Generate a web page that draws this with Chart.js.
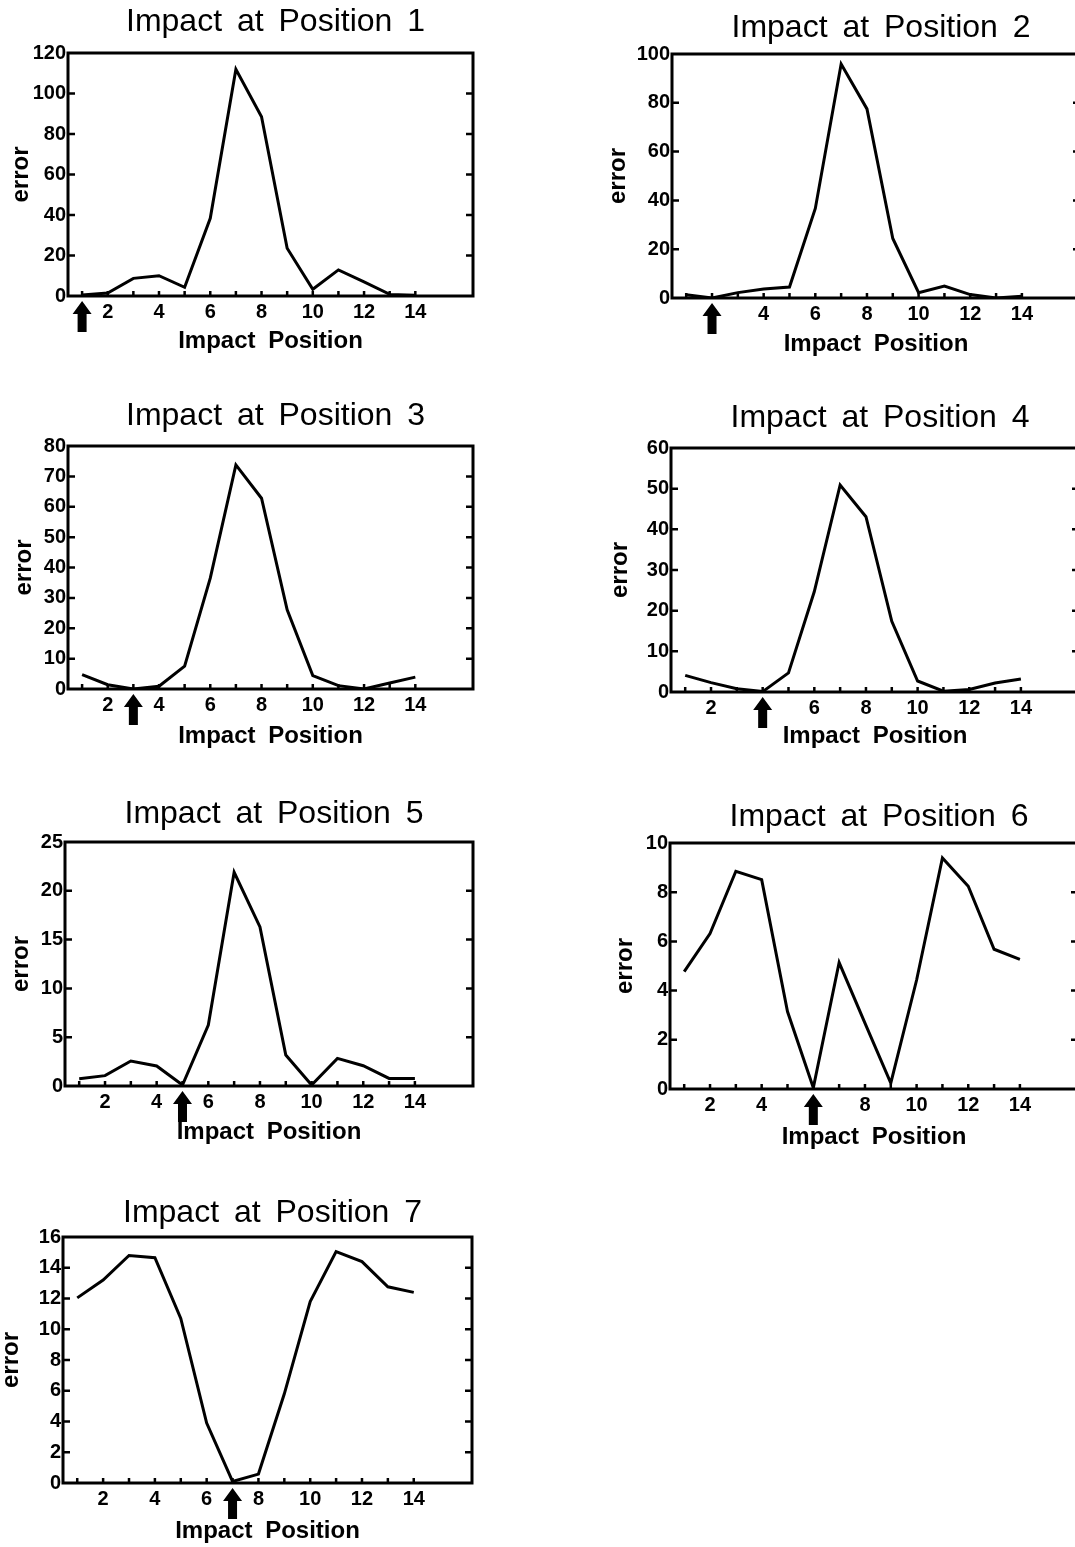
<!DOCTYPE html>
<html>
<head>
<meta charset="utf-8">
<title>Impact Position Error</title>
<script src="https://cdn.jsdelivr.net/npm/chart.js@4.4.1/dist/chart.umd.min.js"></script>
<style>
  html, body { margin: 0; padding: 0; background: #fff; }
  body { width: 1075px; height: 1547px; overflow: hidden; position: relative; }
  .panel { position: absolute; }
</style>
</head>
<body>
<script>
// Impact positions along the beam (x axis)
const positions = [1, 2, 3, 4, 5, 6, 7, 8, 9, 10, 11, 12, 13, 14];
// Where the impact was applied in each panel
const impactAt = [1, 2, 3, 4, 5, 6, 7];

// Error at each position, one series per impact location
const errorAt1 = [0.5, 1.5, 8.7, 10, 4.3, 38.4, 112, 88.5, 23.6, 3.3, 12.9, 7, 0.8, 0.4];
const errorAt2 = [1.3, 0, 2.2, 3.7, 4.5, 36.7, 95.9, 77.5, 24.4, 2.2, 4.9, 1.4, 0, 0.7];
const errorAt3 = [4.7, 1.4, 0, 0.9, 7.5, 36.5, 73.8, 62.8, 26.1, 4.4, 1.1, 0, 2, 3.9];
const errorAt4 = [4.1, 2.3, 0.8, 0.1, 4.7, 24.7, 50.9, 43.1, 17.4, 2.7, 0.2, 0.6, 2.2, 3.2];
const errorAt5 = [0.75, 1.06, 2.56, 2.05, 0.1, 6.24, 21.9, 16.3, 3.17, 0.1, 2.83, 2.08, 0.78, 0.78];
const errorAt6 = [4.77, 6.32, 8.85, 8.51, 3.15, 0.05, 5.14, 2.68, 0.24, 4.43, 9.39, 8.24, 5.68, 5.27];
const errorAt7 = [12.04, 13.2, 14.8, 14.65, 10.7, 3.9, 0.1, 0.58, 5.8, 11.8, 15.05, 14.4, 12.76, 12.4];
const errorSeries = [errorAt1, errorAt2, errorAt3, errorAt4, errorAt5, errorAt6, errorAt7];

// y-axis range and tick spacing per panel
const yMax = [120, 100, 80, 60, 25, 10, 16];
const yStep = [20, 20, 10, 10, 5, 2, 2];

// Page placement of each plot frame
const frames = [
  { boxL: 68,  boxT: 53,   boxB: 296,  boxW: 405, errOff: 49,   titleGap: 30.5, xTitleOff: 45 },
  { boxL: 672, boxT: 54,   boxB: 298,  boxW: 408, errOff: 56,   titleGap: 25.5, xTitleOff: 46 },
  { boxL: 68,  boxT: 446,  boxB: 689,  boxW: 405, errOff: 45.5, titleGap: 30,   xTitleOff: 47.5 },
  { boxL: 671, boxT: 448,  boxB: 692,  boxW: 408, errOff: 52.5, titleGap: 29.5, xTitleOff: 44 },
  { boxL: 65,  boxT: 842,  boxB: 1086, boxW: 408, errOff: 46,   titleGap: 28,   xTitleOff: 46 },
  { boxL: 670, boxT: 843,  boxB: 1089, boxW: 408, errOff: 46.5, titleGap: 25.5, xTitleOff: 48 },
  { boxL: 63,  boxT: 1237, boxB: 1483, boxW: 409, errOff: 54,   titleGap: 24,   xTitleOff: 48 }
];

const FONT = "'Liberation Sans', Arial, Helvetica, sans-serif";
Chart.defaults.font.family = FONT;
Chart.defaults.color = '#000';

const Y_AXIS_W = 75;   // space left of the frame
const TITLE_H = 60;    // space above the frame
const X_AXIS_H = 70;   // space below the frame
const RIGHT_W = 85;    // space right of the frame
const TITLE_SIZE = 32;

// Wider gaps between words, as in the typeset labels
const spacingPlugin = {
  id: 'spacing',
  beforeDraw(chart) { chart.ctx.wordSpacing = '6px'; }
};

// Frame, inward tick marks and the impact arrow
const framePlugin = {
  id: 'frame',
  afterDraw(chart, args, opts) {
    const { ctx, chartArea: a, scales } = chart;
    const xs = scales.x, ys = scales.y;
    ctx.save();
    ctx.strokeStyle = '#000';
    ctx.fillStyle = '#000';
    ctx.lineWidth = 3;
    ctx.strokeRect(a.left, a.top, a.right - a.left, a.bottom - a.top);

    ctx.lineWidth = 2.5;
    ctx.beginPath();
    const yt = ys.ticks;
    for (let k = 1; k < yt.length - 1; k++) {
      const py = ys.getPixelForValue(yt[k].value);
      ctx.moveTo(a.left, py); ctx.lineTo(a.left + 7, py);
      ctx.moveTo(a.right, py); ctx.lineTo(a.right - 7, py);
    }
    positions.forEach(v => {
      const px = xs.getPixelForValue(v);
      ctx.moveTo(px, a.bottom); ctx.lineTo(px, a.bottom - 5);
    });
    ctx.stroke();

    // arrow under the impact position
    const ax = xs.getPixelForValue(opts.impact);
    const t = a.bottom + 5;
    ctx.beginPath();
    ctx.moveTo(ax, t);
    ctx.lineTo(ax + 9.5, t + 13);
    ctx.lineTo(ax + 4.5, t + 13);
    ctx.lineTo(ax + 4.5, t + 31);
    ctx.lineTo(ax - 4.5, t + 31);
    ctx.lineTo(ax - 4.5, t + 13);
    ctx.lineTo(ax - 9.5, t + 13);
    ctx.closePath();
    ctx.fill();
    ctx.restore();
  }
};

frames.forEach((f, i) => {
  const div = document.createElement('div');
  div.className = 'panel';
  const w = Y_AXIS_W + f.boxW + RIGHT_W;
  const h = TITLE_H + (f.boxB - f.boxT) + X_AXIS_H;
  div.style.left = (f.boxL - Y_AXIS_W) + 'px';
  div.style.top = (f.boxT - TITLE_H) + 'px';
  div.style.width = w + 'px';
  div.style.height = h + 'px';
  const canvas = document.createElement('canvas');
  canvas.width = w;
  canvas.height = h;
  div.appendChild(canvas);
  document.body.appendChild(div);

  const imp = impactAt[i];
  const titlePadTop = TITLE_H - f.titleGap - TITLE_SIZE / 2;
  const titlePadBottom = TITLE_H - TITLE_SIZE - titlePadTop;

  new Chart(canvas, {
    type: 'line',
    data: {
      datasets: [{
        data: positions.map((x, k) => ({ x: x, y: errorSeries[i][k] })),
        borderColor: '#000',
        borderWidth: 3,
        pointRadius: 0,
        tension: 0,
        fill: false
      }]
    },
    options: {
      responsive: false,
      animation: false,
      devicePixelRatio: 1,
      layout: { padding: 0 },
      plugins: {
        legend: { display: false },
        tooltip: { enabled: false },
        title: {
          display: true,
          text: 'Impact at Position ' + imp,
          color: '#000',
          font: { family: FONT, size: TITLE_SIZE, weight: 'normal', lineHeight: 1 },
          padding: { top: titlePadTop, bottom: titlePadBottom }
        },
        frame: { impact: imp }
      },
      scales: {
        x: {
          type: 'linear',
          min: 0.45,
          max: 16.25,
          grid: { display: false, drawTicks: false },
          border: { display: false },
          afterBuildTicks: s => { s.ticks = positions.map(v => ({ value: v })); },
          afterFit: s => { s.height = X_AXIS_H; },
          ticks: {
            autoSkip: false,
            maxRotation: 0,
            padding: 4,
            color: '#000',
            font: { family: FONT, size: 20, weight: 'bold' },
            callback: v => (v % 2 === 0 && v !== imp) ? String(v) : ''
          },
          title: {
            display: true,
            text: 'Impact Position',
            color: '#000',
            font: { family: FONT, size: 24, weight: 'bold', lineHeight: 1 },
            padding: { top: 0, bottom: 58 - f.xTitleOff }
          }
        },
        y: {
          min: 0,
          max: yMax[i],
          grid: { display: false, drawTicks: false },
          border: { display: false },
          afterFit: s => { s.width = Y_AXIS_W; },
          ticks: {
            stepSize: yStep[i],
            padding: 2,
            color: '#000',
            font: { family: FONT, size: 20, weight: 'bold' }
          },
          title: {
            display: true,
            text: 'error',
            color: '#000',
            font: { family: FONT, size: 24, weight: 'bold', lineHeight: 1 },
            padding: { top: 65 - f.errOff, bottom: 0 }
          }
        },
        // empty margin axis on the right of the frame
        yRight: {
          position: 'right',
          display: true,
          grid: { display: false, drawTicks: false },
          border: { display: false },
          ticks: { display: false },
          afterFit: s => { s.width = RIGHT_W; }
        }
      }
    },
    plugins: [spacingPlugin, framePlugin]
  });
});
</script>
</body>
</html>
